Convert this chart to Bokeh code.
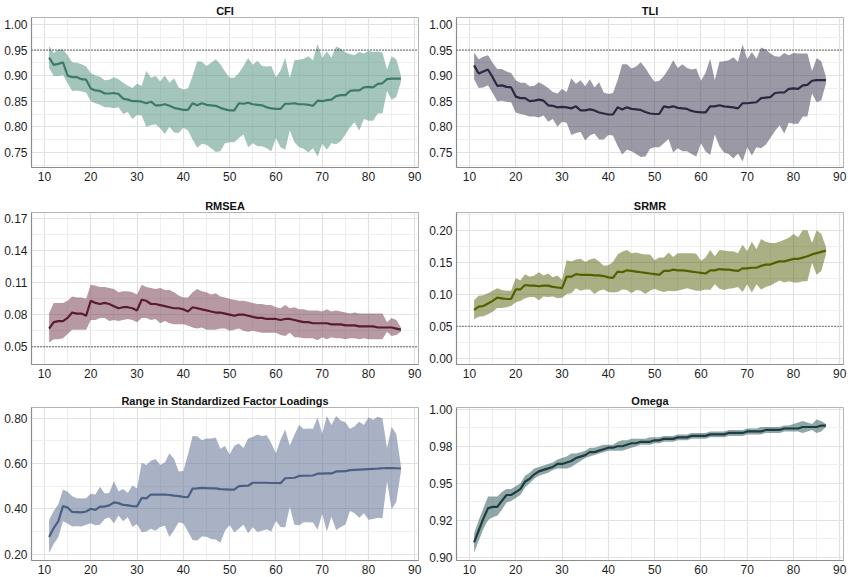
from bokeh.plotting import figure
from bokeh.layouts import gridplot
from bokeh.models import FixedTicker, Range1d, Span, PrintfTickFormatter
from bokeh.embed import file_html
from bokeh.resources import INLINE

sample_size = list(range(11, 88))

cfi_mean = [0.935,0.921,0.923,0.926,0.900,0.897,0.897,0.893,0.892,0.875,
            0.871,0.870,0.865,0.865,0.866,0.864,0.855,0.853,0.850,0.850,
            0.849,0.846,0.849,0.842,0.842,0.844,0.841,0.837,0.835,0.833,
            0.833,0.846,0.842,0.846,0.843,0.842,0.841,0.837,0.834,0.832,
            0.832,0.846,0.845,0.847,0.844,0.843,0.842,0.838,0.836,0.835,
            0.835,0.845,0.845,0.846,0.844,0.844,0.843,0.841,0.851,0.850,
            0.852,0.853,0.860,0.862,0.862,0.870,0.871,0.871,0.877,0.878,
            0.877,0.884,0.885,0.893,0.894,0.894,0.894]
cfi_upper = [0.958,0.944,0.951,0.951,0.940,0.926,0.925,0.922,0.918,0.905,
             0.900,0.898,0.891,0.892,0.897,0.893,0.886,0.880,0.876,0.884,
             0.880,0.909,0.896,0.899,0.889,0.900,0.886,0.895,0.877,0.873,
             0.875,0.899,0.928,0.927,0.919,0.925,0.932,0.922,0.908,0.896,
             0.896,0.905,0.919,0.934,0.921,0.929,0.919,0.918,0.919,0.897,
             0.910,0.935,0.895,0.930,0.931,0.933,0.938,0.930,0.962,0.934,
             0.947,0.935,0.957,0.953,0.945,0.942,0.940,0.946,0.943,0.948,
             0.946,0.947,0.945,0.912,0.938,0.932,0.900]
cfi_lower = [0.915,0.899,0.899,0.901,0.885,0.870,0.871,0.869,0.867,0.850,
             0.846,0.843,0.838,0.838,0.836,0.838,0.825,0.829,0.815,0.823,
             0.822,0.800,0.803,0.805,0.797,0.786,0.800,0.789,0.788,0.798,
             0.793,0.775,0.759,0.767,0.765,0.758,0.751,0.752,0.768,0.770,
             0.770,0.778,0.785,0.760,0.768,0.762,0.762,0.758,0.752,0.778,
             0.760,0.755,0.793,0.770,0.760,0.757,0.750,0.758,0.742,0.767,
             0.755,0.768,0.766,0.772,0.785,0.799,0.809,0.793,0.815,0.812,
             0.812,0.826,0.826,0.870,0.853,0.858,0.888]

tli_mean = [0.920,0.904,0.908,0.912,0.897,0.880,0.881,0.878,0.877,0.859,
            0.856,0.856,0.850,0.851,0.853,0.851,0.842,0.841,0.838,0.839,
            0.838,0.836,0.840,0.832,0.832,0.834,0.832,0.828,0.826,0.824,
            0.824,0.838,0.834,0.838,0.835,0.834,0.833,0.829,0.826,0.825,
            0.825,0.840,0.838,0.840,0.837,0.836,0.835,0.831,0.829,0.828,
            0.828,0.840,0.840,0.842,0.840,0.839,0.838,0.836,0.846,0.846,
            0.847,0.848,0.856,0.857,0.858,0.866,0.867,0.867,0.874,0.875,
            0.874,0.881,0.882,0.890,0.891,0.891,0.891]
tli_upper = [0.945,0.932,0.937,0.940,0.925,0.913,0.913,0.908,0.905,0.891,
             0.886,0.886,0.879,0.880,0.887,0.882,0.876,0.868,0.865,0.874,
             0.868,0.895,0.884,0.891,0.879,0.893,0.877,0.887,0.867,0.864,
             0.866,0.891,0.922,0.922,0.914,0.918,0.926,0.915,0.900,0.888,
             0.890,0.899,0.913,0.930,0.915,0.922,0.915,0.912,0.914,0.890,
             0.905,0.933,0.891,0.927,0.928,0.930,0.936,0.927,0.961,0.932,
             0.946,0.933,0.955,0.951,0.943,0.938,0.937,0.944,0.940,0.944,
             0.943,0.943,0.943,0.909,0.934,0.928,0.898]
tli_lower = [0.893,0.876,0.877,0.881,0.866,0.850,0.851,0.849,0.848,0.828,
             0.825,0.823,0.820,0.820,0.818,0.822,0.810,0.815,0.800,0.810,
             0.808,0.784,0.788,0.790,0.773,0.783,0.787,0.775,0.775,0.784,
             0.783,0.763,0.746,0.755,0.752,0.747,0.741,0.742,0.757,0.760,
             0.760,0.768,0.776,0.750,0.758,0.752,0.752,0.747,0.742,0.768,
             0.752,0.745,0.785,0.762,0.750,0.747,0.738,0.748,0.732,0.760,
             0.744,0.760,0.758,0.765,0.778,0.792,0.803,0.787,0.808,0.806,
             0.806,0.820,0.820,0.865,0.848,0.852,0.884]

rmsea_mean = [0.067,0.073,0.074,0.074,0.077,0.082,0.081,0.081,0.079,0.093,
              0.091,0.090,0.091,0.090,0.088,0.086,0.087,0.087,0.086,0.084,
              0.094,0.093,0.090,0.090,0.089,0.088,0.087,0.086,0.086,0.085,
              0.083,0.087,0.086,0.085,0.084,0.083,0.082,0.082,0.081,0.080,
              0.079,0.080,0.080,0.079,0.078,0.077,0.077,0.076,0.076,0.076,
              0.075,0.076,0.076,0.075,0.074,0.073,0.073,0.072,0.072,0.072,
              0.072,0.071,0.071,0.071,0.070,0.070,0.070,0.069,0.069,0.069,
              0.069,0.068,0.068,0.068,0.068,0.067,0.066]
rmsea_upper = [0.081,0.091,0.091,0.091,0.093,0.097,0.096,0.096,0.095,0.108,
               0.107,0.106,0.106,0.105,0.104,0.101,0.102,0.102,0.101,0.099,
               0.108,0.106,0.105,0.104,0.105,0.103,0.103,0.101,0.098,0.096,
               0.096,0.101,0.104,0.102,0.101,0.099,0.100,0.097,0.096,0.095,
               0.094,0.093,0.093,0.092,0.091,0.090,0.090,0.089,0.089,0.087,
               0.086,0.089,0.086,0.087,0.085,0.085,0.084,0.084,0.084,0.083,
               0.085,0.083,0.084,0.083,0.082,0.081,0.082,0.081,0.081,0.081,
               0.081,0.081,0.081,0.073,0.077,0.075,0.068]
rmsea_lower = [0.054,0.057,0.057,0.058,0.062,0.066,0.066,0.066,0.066,0.075,
               0.075,0.077,0.077,0.074,0.075,0.074,0.075,0.076,0.075,0.073,
               0.077,0.077,0.075,0.076,0.072,0.074,0.072,0.071,0.071,0.071,
               0.070,0.068,0.067,0.068,0.066,0.066,0.066,0.067,0.067,0.065,
               0.066,0.067,0.065,0.064,0.065,0.064,0.063,0.063,0.063,0.063,
               0.061,0.060,0.063,0.059,0.059,0.058,0.058,0.058,0.056,0.059,
               0.057,0.059,0.058,0.058,0.057,0.058,0.058,0.057,0.058,0.057,
               0.057,0.057,0.057,0.064,0.060,0.061,0.064]

srmr_mean = [0.076,0.081,0.082,0.086,0.090,0.095,0.094,0.093,0.093,0.108,
             0.108,0.115,0.114,0.114,0.113,0.114,0.114,0.112,0.111,0.110,
             0.128,0.128,0.132,0.131,0.131,0.131,0.130,0.130,0.129,0.127,
             0.126,0.136,0.135,0.138,0.137,0.136,0.135,0.134,0.133,0.132,
             0.131,0.137,0.137,0.139,0.138,0.138,0.137,0.136,0.135,0.134,
             0.133,0.138,0.138,0.140,0.139,0.139,0.138,0.137,0.141,0.141,
             0.142,0.142,0.145,0.147,0.147,0.150,0.152,0.152,0.154,0.156,
             0.156,0.158,0.160,0.163,0.165,0.167,0.169]
srmr_upper = [0.091,0.098,0.099,0.102,0.106,0.110,0.107,0.106,0.106,0.126,
              0.122,0.132,0.128,0.130,0.135,0.130,0.133,0.127,0.130,0.123,
              0.154,0.152,0.155,0.156,0.151,0.155,0.157,0.152,0.145,0.146,
              0.151,0.163,0.167,0.170,0.165,0.166,0.164,0.163,0.163,0.154,
              0.158,0.158,0.166,0.159,0.165,0.165,0.165,0.165,0.164,0.153,
              0.158,0.170,0.160,0.170,0.169,0.168,0.168,0.165,0.178,0.168,
              0.183,0.171,0.187,0.183,0.181,0.181,0.183,0.186,0.189,0.195,
              0.190,0.201,0.201,0.181,0.201,0.195,0.175]
srmr_lower = [0.061,0.065,0.066,0.069,0.073,0.079,0.079,0.080,0.082,0.088,
              0.090,0.094,0.096,0.096,0.091,0.097,0.096,0.097,0.094,0.095,
              0.101,0.102,0.110,0.106,0.108,0.108,0.101,0.106,0.108,0.104,
              0.103,0.104,0.108,0.107,0.102,0.107,0.106,0.101,0.106,0.109,
              0.106,0.104,0.106,0.105,0.106,0.108,0.110,0.108,0.106,0.106,
              0.108,0.107,0.116,0.109,0.107,0.109,0.110,0.112,0.104,0.116,
              0.103,0.116,0.108,0.112,0.114,0.118,0.122,0.119,0.121,0.119,
              0.119,0.121,0.121,0.150,0.131,0.137,0.163]

range_mean = [0.275,0.315,0.345,0.412,0.405,0.386,0.385,0.384,0.388,0.400,
              0.395,0.410,0.410,0.415,0.428,0.425,0.417,0.415,0.412,0.411,
              0.448,0.446,0.463,0.463,0.463,0.463,0.461,0.458,0.456,0.453,
              0.451,0.489,0.490,0.492,0.491,0.490,0.490,0.487,0.486,0.485,
              0.485,0.500,0.501,0.502,0.515,0.515,0.515,0.515,0.514,0.514,
              0.513,0.535,0.536,0.537,0.545,0.546,0.546,0.547,0.555,0.555,
              0.556,0.556,0.565,0.565,0.566,0.571,0.572,0.573,0.574,0.575,
              0.576,0.577,0.579,0.580,0.580,0.579,0.578]
range_upper = [0.350,0.390,0.420,0.485,0.475,0.455,0.447,0.445,0.447,0.466,
               0.463,0.497,0.467,0.470,0.522,0.477,0.487,0.470,0.503,0.490,
               0.603,0.593,0.612,0.620,0.593,0.605,0.645,0.620,0.565,0.567,
               0.640,0.722,0.720,0.703,0.710,0.710,0.715,0.665,0.677,0.640,
               0.678,0.688,0.668,0.710,0.717,0.728,0.722,0.725,0.690,0.645,
               0.705,0.750,0.680,0.727,0.770,0.752,0.755,0.753,0.803,0.733,
               0.810,0.770,0.810,0.790,0.782,0.752,0.765,0.784,0.770,0.803,
               0.793,0.807,0.800,0.668,0.762,0.730,0.590]
range_lower = [0.205,0.245,0.275,0.345,0.335,0.322,0.323,0.322,0.330,0.336,
               0.327,0.330,0.355,0.363,0.335,0.370,0.345,0.363,0.320,0.333,
               0.296,0.300,0.312,0.303,0.320,0.325,0.275,0.305,0.340,0.335,
               0.300,0.262,0.260,0.278,0.277,0.267,0.264,0.250,0.303,0.328,
               0.295,0.312,0.330,0.292,0.318,0.298,0.303,0.310,0.300,0.347,
               0.320,0.318,0.408,0.330,0.327,0.340,0.340,0.339,0.307,0.378,
               0.300,0.365,0.306,0.320,0.330,0.390,0.380,0.360,0.380,0.352,
               0.355,0.360,0.358,0.520,0.398,0.430,0.565]

omega_mean = [0.910,0.918,0.926,0.933,0.934,0.934,0.938,0.942,0.942,0.944,
              0.946,0.951,0.953,0.956,0.958,0.959,0.960,0.961,0.963,0.963,
              0.964,0.965,0.967,0.968,0.969,0.971,0.971,0.972,0.973,0.974,
              0.974,0.975,0.975,0.976,0.977,0.977,0.978,0.978,0.978,0.979,
              0.979,0.980,0.980,0.980,0.981,0.981,0.981,0.982,0.982,0.982,
              0.982,0.983,0.983,0.983,0.983,0.984,0.984,0.984,0.984,0.985,
              0.985,0.985,0.985,0.986,0.986,0.986,0.986,0.987,0.987,0.987,
              0.987,0.988,0.988,0.988,0.988,0.989,0.989]
omega_upper = [0.916,0.925,0.933,0.941,0.941,0.941,0.944,0.946,0.946,0.948,
               0.950,0.955,0.957,0.960,0.961,0.962,0.963,0.964,0.966,0.967,
               0.968,0.970,0.970,0.971,0.972,0.974,0.974,0.975,0.976,0.976,
               0.976,0.978,0.979,0.979,0.980,0.980,0.980,0.980,0.981,0.981,
               0.981,0.982,0.982,0.982,0.983,0.983,0.983,0.984,0.984,0.984,
               0.984,0.985,0.985,0.985,0.985,0.986,0.986,0.986,0.986,0.987,
               0.987,0.987,0.988,0.988,0.988,0.988,0.988,0.989,0.989,0.990,
               0.991,0.992,0.991,0.990,0.993,0.992,0.990]
omega_lower = [0.903,0.911,0.919,0.925,0.927,0.928,0.932,0.937,0.938,0.940,
               0.942,0.947,0.950,0.953,0.955,0.956,0.957,0.959,0.960,0.960,
               0.960,0.961,0.963,0.965,0.967,0.968,0.969,0.970,0.971,0.972,
               0.972,0.972,0.972,0.973,0.974,0.975,0.976,0.976,0.976,0.977,
               0.977,0.978,0.978,0.978,0.979,0.979,0.979,0.980,0.980,0.980,
               0.980,0.981,0.981,0.981,0.981,0.982,0.982,0.982,0.982,0.983,
               0.983,0.983,0.983,0.984,0.984,0.984,0.984,0.985,0.985,0.985,
               0.985,0.984,0.985,0.986,0.984,0.985,0.988]

x_ticks = [10, 20, 30, 40, 50, 60, 70, 80, 90]
x_minor = [15, 25, 35, 45, 55, 65, 75, 85]

FONT = "Liberation Sans"

COL_W = [425, 426]
COL_BR = [7, 8]
ROW_H = [192, 192, 193]
ROW_BT = [17, 20, 23]
ROW_BB = [25, 20, 17]


def panel(title, lo, mid, hi, yr, yt, ym, ylab, fill, line, ref, col, rowi):
    p = figure(width=COL_W[col], height=ROW_H[rowi], x_range=Range1d(7.2, 90.8),
               y_range=Range1d(*yr), output_backend="svg", toolbar_location=None,
               min_border_left=31, min_border_right=COL_BR[col],
               min_border_top=ROW_BT[rowi], min_border_bottom=ROW_BB[rowi])
    p.title.text = title
    p.title.align = "center"
    p.title.text_font = FONT
    p.title.text_font_size = "11px"
    p.title.text_font_style = "bold"
    p.title.text_color = "#111111"
    p.title.standoff = 2
    p.title.offset = 0

    p.background_fill_color = "white"
    p.border_fill_color = "white"
    p.outline_line_color = "#b3b3b3"
    p.outline_line_width = 1

    p.xaxis.ticker = FixedTicker(ticks=x_ticks, minor_ticks=x_minor)
    p.yaxis.ticker = FixedTicker(ticks=yt, minor_ticks=ym)
    p.yaxis.formatter = PrintfTickFormatter(format="%.2f")
    p.yaxis.major_label_overrides = ylab
    for ax in (p.xaxis[0], p.yaxis[0]):
        ax.major_tick_line_color = None
        ax.minor_tick_line_color = None
        ax.major_tick_out = 0
        ax.major_tick_in = 0
        ax.minor_tick_out = 0
        ax.major_label_standoff = 4
        ax.major_label_text_font = FONT
        ax.major_label_text_font_size = "12px"
        ax.major_label_text_color = "#1e1e1e"
        ax.axis_line_color = "#8c8c8c"
        ax.axis_line_width = 1.2
    for g in (p.xgrid[0], p.ygrid[0]):
        g.grid_line_color = "#e2e2e2"
        g.grid_line_width = 1.2
        g.minor_grid_line_color = "#efefef"
        g.minor_grid_line_width = 1

    p.varea(x=sample_size, y1=lo, y2=hi, fill_color=fill, fill_alpha=0.5)
    p.line(sample_size, mid, line_color=line, line_width=2.2)
    if ref is not None:
        p.add_layout(Span(location=ref, dimension="width", line_color="#3c3c3c",
                          line_dash="1 2", line_width=1.3))
    return p


def lab2(ts):
    return {t: "%.2f" % t for t in ts}


cfi_t = [0.75, 0.80, 0.85, 0.90, 0.95, 1.00]
cfi_m = [0.725, 0.775, 0.825, 0.875, 0.925, 0.975]
rm_t = [0.05, 0.08, 0.11, 0.14, 0.17]
rm_m = [0.065, 0.095, 0.125, 0.155]
sr_t = [0.00, 0.05, 0.10, 0.15, 0.20]
sr_m = [0.025, 0.075, 0.125, 0.175, 0.225]
rg_t = [0.20, 0.40, 0.60, 0.80]
rg_m = [0.30, 0.50, 0.70]
om_t = [0.900, 0.925, 0.950, 0.975, 1.000]
om_m = [0.9125, 0.9375, 0.9625, 0.9875]
om_lab = {0.9: "0.90", 0.925: "0.92", 0.95: "0.95", 0.975: "0.98", 1.0: "1.00"}

p1 = panel("CFI", cfi_lower, cfi_mean, cfi_upper, (0.7205, 1.0135), cfi_t, cfi_m, lab2(cfi_t),
           "#4a8b77", "#3e7a68", 0.95, 0, 0)
p2 = panel("TLI", tli_lower, tli_mean, tli_upper, (0.7205, 1.0135), cfi_t, cfi_m, lab2(cfi_t),
           "#3a344e", "#2b2842", 0.95, 1, 0)
p3 = panel("RMSEA", rmsea_lower, rmsea_mean, rmsea_upper, (0.0334, 0.1756), rm_t, rm_m, lab2(rm_t),
           "#703448", "#5b1a33", 0.05, 0, 1)
p4 = panel("SRMR", srmr_lower, srmr_mean, srmr_upper, (-0.0099, 0.2288), sr_t, sr_m, lab2(sr_t),
           "#566208", "#546000", 0.05, 1, 1)
p5 = panel("Range in Standardized Factor Loadings", range_lower, range_mean, range_upper,
           (0.1716, 0.8474), rg_t, rg_m, lab2(rg_t), "#52668a", "#4b6085", None, 0, 2)
p6 = panel("Omega", omega_lower, omega_mean, omega_upper, (0.8977, 1.0012), om_t, om_m, om_lab,
           "#21504f", "#1e3c40", None, 1, 2)

grid = gridplot([[p1, p2], [p3, p4], [p5, p6]], toolbar_location=None)

open("out.html", "w").write(file_html(grid, INLINE))
